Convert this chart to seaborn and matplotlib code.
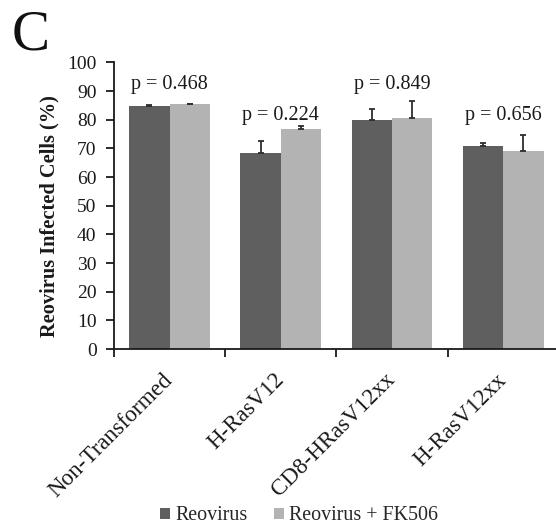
import matplotlib
matplotlib.use("Agg")
import matplotlib.pyplot as plt
from matplotlib.patches import Patch
import seaborn as sns
import pandas as pd

# Reovirus infection of transformed and non-transformed cell lines, +/- FK506
cell_lines = ["Non-Transformed", "H-RasV12", "CD8-HRasV12xx", "H-RasV12xx"]
treatments = ["Reovirus", "Reovirus + FK506"]
reovirus_mean = [84.7, 68.3, 79.8, 70.8]
reovirus_sem = [0.5, 4.4, 4.1, 1.2]
fk506_mean = [85.6, 76.9, 80.7, 69.2]
fk506_sem = [0.0, 0.9, 5.7, 5.4]
p_values = ["0.468", "0.224", "0.849", "0.656"]
p_label_height = [90.6, 79.8, 90.6, 79.8]
y_ticks = list(range(0, 101, 10))

colors = {"Reovirus": "#5f5f5f", "Reovirus + FK506": "#b3b3b3"}

df = pd.DataFrame({
    "Cell line": cell_lines * 2,
    "Treatment": [treatments[0]] * 4 + [treatments[1]] * 4,
    "Infected": reovirus_mean + fk506_mean,
})
errors = {treatments[0]: reovirus_sem, treatments[1]: fk506_sem}

sns.set_style("white")
plt.rcParams["font.family"] = ["Liberation Serif", "DejaVu Serif"]

fig = plt.figure(figsize=(5.56, 5.29), dpi=100)
ax = fig.add_axes([0.205, 0.340, 0.800, 0.542])

sns.barplot(data=df, x="Cell line", y="Infected", hue="Treatment",
            order=cell_lines, hue_order=treatments, palette=colors,
            width=0.727, errorbar=None, saturation=1, linewidth=0,
            legend=False, ax=ax)

# one-sided (upper) error bars on each bar
for container, trt in zip(ax.containers, treatments):
    xs = [b.get_x() + b.get_width() / 2 for b in container]
    ys = [b.get_height() for b in container]
    err = errors[trt]
    ax.errorbar(xs, ys, yerr=[[0] * len(err), err], fmt="none",
                ecolor="#2e2e2e", elinewidth=1.3, capsize=2.5, capthick=1.3)

for i, (p, h) in enumerate(zip(p_values, p_label_height)):
    ax.text(i, h, f"p = {p}", ha="center", va="baseline", fontsize=14.5,
            color="#1a1a1a")

ax.set_xlim(-0.5, len(cell_lines) - 0.5)
ax.set_ylim(0, 100)
ax.set_yticks(y_ticks)
ax.tick_params(axis="y", direction="out", length=6, width=1.3, pad=6.5,
               labelsize=14, colors="#1a1a1a", left=True)

ax.set_xticks(range(len(cell_lines)))
ax.set_xticklabels(cell_lines, rotation=45, ha="right", va="center",
                   rotation_mode="anchor", fontsize=16.6, color="#1a1a1a")
ax.tick_params(axis="x", which="major", length=0, pad=20)
ax.set_xticks([i - 0.5 for i in range(len(cell_lines) + 1)], minor=True)
ax.tick_params(axis="x", which="minor", direction="out", length=6,
               width=1.3, bottom=True, colors="#1a1a1a")

for side in ["top", "right"]:
    ax.spines[side].set_visible(False)
for side in ["left", "bottom"]:
    ax.spines[side].set_color("#1a1a1a")
    ax.spines[side].set_linewidth(1.3)

ax.set_xlabel("")
ax.set_ylabel("Reovirus Infected Cells (%)", fontsize=14.7,
              fontweight="bold", color="#1a1a1a")
ax.yaxis.set_label_coords(-0.146, 0.463)
ax.yaxis.label.set_verticalalignment("center")

handles = [Patch(facecolor=colors[t], edgecolor="none") for t in treatments]
fig.legend(handles, treatments, loc="center", ncol=2,
           bbox_to_anchor=(299 / 556, 1 - 516 / 529), frameon=False,
           fontsize=14.4, handlelength=0.5, handleheight=0.5,
           handletextpad=0.25, columnspacing=1.3)

fig.text(12 / 556, 1 - 50 / 529, "C", fontsize=41, ha="left",
         va="baseline", color="#111111")

fig.savefig("out.png", dpi=100)
